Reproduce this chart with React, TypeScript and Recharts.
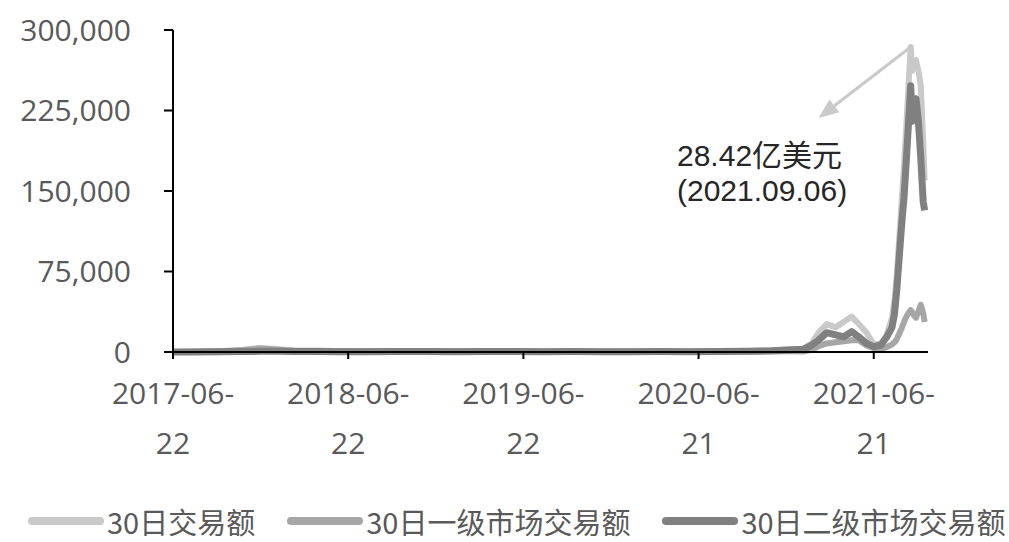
import React from "react";
import { LineChart, Line, XAxis, YAxis, ReferenceLine } from "recharts";

// 30-day NFT trading volume (万美元)
const dates = [
  "2017-06-22", "2017-08-01", "2017-10-01", "2017-11-15", "2017-12-20", "2018-01-25",
  "2018-03-01", "2018-04-15", "2018-06-01", "2018-08-01", "2018-10-01", "2018-12-01",
  "2019-02-01", "2019-04-01", "2019-06-01", "2019-08-01", "2019-10-01", "2019-12-01",
  "2020-02-01", "2020-04-01", "2020-06-01", "2020-08-01", "2020-10-01", "2020-11-20",
  "2020-12-25", "2021-01-25", "2021-02-12", "2021-02-26", "2021-03-15", "2021-04-03",
  "2021-04-19", "2021-05-06", "2021-05-21", "2021-06-06", "2021-06-21", "2021-07-06",
  "2021-07-18", "2021-07-29", "2021-08-03", "2021-08-08", "2021-08-13", "2021-08-18",
  "2021-08-23", "2021-08-28", "2021-09-01", "2021-09-06", "2021-09-09", "2021-09-13",
  "2021-09-17", "2021-09-22", "2021-09-27", "2021-10-02", "2021-10-05",
];

const totalVolume = [
  0, 300, 800, 2000, 3800, 2800,
  1500, 1300, 900, 700, 1000, 900,
  500, 700, 600, 400, 500, 300,
  400, 500, 400, 700, 1000, 1500,
  2500, 3000, 8000, 18000, 26000, 23000,
  28000, 33000, 26000, 18000, 7000, 8000,
  16000, 32000, 48000, 72000, 105000, 140000,
  172000, 212000, 245000, 284200, 262000, 268000,
  272000, 262000, 248000, 195000, 160000,
];

const primaryVolume = [
  0, 200, 600, 1600, 3200, 2200,
  1100, 900, 600, 400, 600, 500,
  200, 300, 200, 100, 100, 100,
  100, 100, 100, 200, 300, 400,
  600, 500, 2000, 5500, 8000, 9000,
  10000, 11000, 11000, 6000, 3500, 3000,
  4500, 7000, 9000, 12000, 17000, 22000,
  28000, 33000, 36000, 39000, 37000, 34000,
  32000, 38000, 44000, 36000, 28000,
];

const secondaryVolume = [
  0, 100, 200, 400, 600, 600,
  400, 400, 300, 300, 400, 400,
  300, 400, 400, 300, 400, 200,
  300, 400, 300, 500, 700, 1100,
  1900, 2500, 6500, 11000, 18000, 16000,
  14000, 19000, 14000, 8000, 5000, 6500,
  14000, 23000, 35000, 58000, 88000, 118000,
  144000, 180000, 210000, 248000, 215000, 226000,
  236000, 215000, 180000, 140000, 132000,
];

const tickDates = ["2017-06-22", "2018-06-22", "2019-06-22", "2020-06-21", "2021-06-21"];
const yTicks = [0, 75000, 150000, 225000, 300000];
const seriesKeys = ["total", "primary", "secondary"];
const seriesNames = ["30日交易额", "30日一级市场交易额", "30日二级市场交易额"];
const seriesColors = ["#c9c9c9", "#a6a6a6", "#808080"];

const peakDate = "2021-09-06";
const peakValue = 284200;
const arrowTipDate = "2021-02-26";
const arrowTipValue = 218000;

const DAY_MS = 86400000;
const origin = Date.parse(dates[0]);
const toDay = (d: string) => Math.round((Date.parse(d) - origin) / DAY_MS);

const data = dates.map((d, i) => ({
  t: toDay(d),
  total: totalVolume[i],
  primary: primaryVolume[i],
  secondary: secondaryVolume[i],
}));

const xTicks = tickDates.map(toDay);
const axisFont = "'Open Sans', 'Noto Sans CJK SC', sans-serif";

const XTick = (props: any) => {
  const { x, y, payload } = props;
  const label = tickDates[xTicks.indexOf(payload.value)] || "";
  return (
    <text x={x} y={y} textAnchor="middle" fill="#595959" fontSize={30} fontFamily={axisFont}>
      <tspan x={x} dy={45}>{label.slice(0, 8)}</tspan>
      <tspan x={x} dy={50}>{label.slice(8)}</tspan>
    </text>
  );
};

const Arrow = (props: any) => {
  const { x1, y1, x2, y2 } = props;
  if ([x1, y1, x2, y2].some((v) => typeof v !== "number")) return null;
  const ang = Math.atan2(y2 - y1, x2 - x1);
  const len = 20;
  const half = 8;
  const bx = x2 - len * Math.cos(ang);
  const by = y2 - len * Math.sin(ang);
  const px = -Math.sin(ang) * half;
  const py = Math.cos(ang) * half;
  return (
    <g>
      <line x1={x1} y1={y1} x2={bx} y2={by} stroke="#c9c9c9" strokeWidth={3} />
      <polygon
        points={`${x2},${y2} ${bx + px},${by + py} ${bx - px},${by - py}`}
        fill="#c9c9c9"
      />
    </g>
  );
};

export default function App() {
  return (
    <div style={{ position: "absolute", left: 0, top: 0, width: 1009, height: 542, background: "#fff" }}>
      <LineChart
        width={1009}
        height={542}
        data={data}
        margin={{ top: 30, right: 81, bottom: 130, left: 0 }}
      >
        <XAxis
          dataKey="t"
          type="number"
          domain={[0, 1573]}
          ticks={xTicks}
          tick={<XTick />}
          tickSize={7}
          tickMargin={0}
          height={60}
          interval={0}
          axisLine={{ stroke: "#000", strokeWidth: 2 }}
          tickLine={{ stroke: "#000", strokeWidth: 2 }}
        />
        <YAxis
          type="number"
          domain={[0, 300000]}
          ticks={yTicks}
          width={173}
          tickSize={9}
          tickMargin={33}
          interval={0}
          tickFormatter={(v: number) => v.toLocaleString("en-US")}
          tick={{ fill: "#595959", fontSize: 30, fontFamily: axisFont }}
          axisLine={{ stroke: "#000", strokeWidth: 2 }}
          tickLine={{ stroke: "#000", strokeWidth: 2 }}
        />
        {seriesKeys.map((k, i) => (
          <Line
            key={k}
            type="linear"
            dataKey={k}
            name={seriesNames[i]}
            stroke={seriesColors[i]}
            strokeWidth={i === 2 ? 7 : 6}
            strokeLinejoin="round"
            dot={false}
            isAnimationActive={false}
          />
        ))}
        <ReferenceLine
          segment={[
            { x: toDay(peakDate), y: peakValue },
            { x: toDay(arrowTipDate), y: arrowTipValue },
          ]}
          shape={<Arrow />}
        />
      </LineChart>

      <div
        style={{
          position: "absolute",
          left: 677,
          top: 138,
          fontFamily: "'Liberation Sans', 'Noto Sans CJK SC', sans-serif",
          fontSize: 30,
          lineHeight: "35px",
          color: "#262626",
        }}
      >
        <div>28.42亿美元</div>
        <div>(2021.09.06)</div>
      </div>

      <div
        style={{
          position: "absolute",
          left: 28,
          top: 506,
          display: "flex",
          alignItems: "center",
          fontFamily: "'Noto Sans CJK SC', sans-serif",
          fontSize: 29,
          lineHeight: "30px",
          color: "#595959",
          whiteSpace: "nowrap",
        }}
      >
        {seriesNames.map((n, i) => (
          <div key={n} style={{ display: "flex", alignItems: "center", marginRight: 32 }}>
            <div style={{ width: 76, height: 8, borderRadius: 4, background: seriesColors[i], marginRight: 3 }} />
            <span>{n}</span>
          </div>
        ))}
      </div>
    </div>
  );
}
